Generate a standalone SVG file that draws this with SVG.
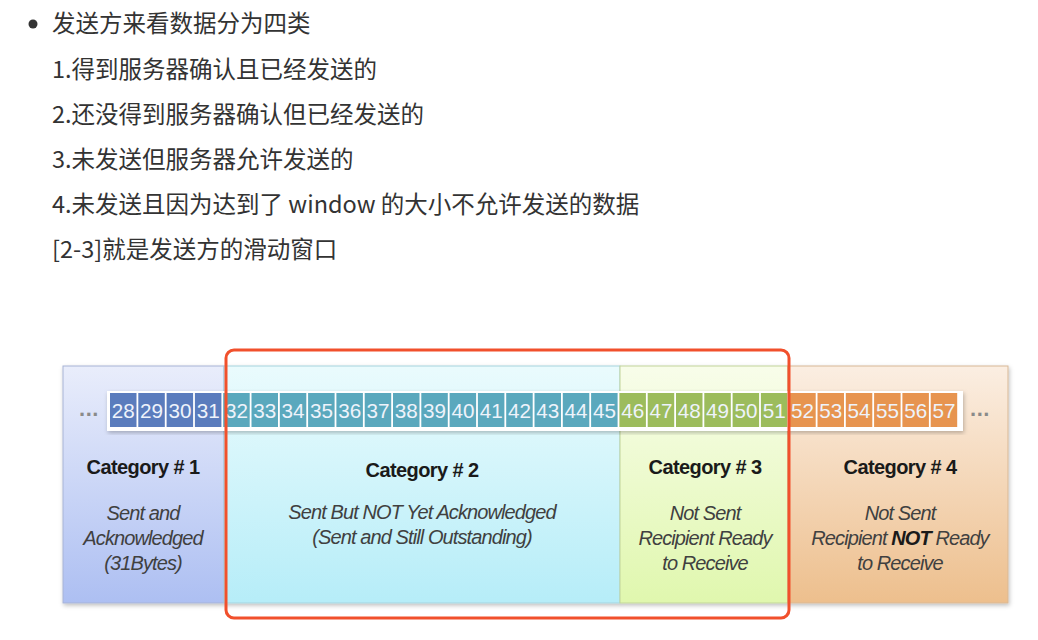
<svg xmlns="http://www.w3.org/2000/svg" width="1038" height="640" viewBox="0 0 1038 640">
<style>
.zh{font-family:"Microsoft YaHei","Noto Sans CJK SC",sans-serif;font-size:23.5px;fill:#333}
.cat{font-family:"Liberation Sans",Arial,sans-serif;font-size:20px;font-weight:bold;fill:#1a1a1a;text-anchor:middle;letter-spacing:-0.6px}
.desc{font-family:"Liberation Sans",Arial,sans-serif;font-size:20px;font-style:italic;fill:#404040;text-anchor:middle;letter-spacing:-0.9px}
.num{font-family:"Liberation Sans",Arial,sans-serif;font-size:21px;fill:#eef3fb;text-anchor:middle}
.dots{font-family:"Liberation Sans",Arial,sans-serif;font-size:22px;fill:#8a8a8a;text-anchor:middle;font-weight:bold;letter-spacing:0.5px}
.c1{fill:#5a7cbd}.c2{fill:#5aa8bd}.c3{fill:#9cbc5c}.c4{fill:#e7944f}
</style>
<defs>
<linearGradient id="g1" x1="0" y1="0" x2="0" y2="1"><stop offset="0" stop-color="#e9edfb"/><stop offset="1" stop-color="#adbff2"/></linearGradient>
<linearGradient id="g2" x1="0" y1="0" x2="0" y2="1"><stop offset="0" stop-color="#eafbfd"/><stop offset="1" stop-color="#b6edf8"/></linearGradient>
<linearGradient id="g3" x1="0" y1="0" x2="0" y2="1"><stop offset="0" stop-color="#f8fdea"/><stop offset="1" stop-color="#e0f7ae"/></linearGradient>
<linearGradient id="g4" x1="0" y1="0" x2="0" y2="1"><stop offset="0" stop-color="#fbeee2"/><stop offset="1" stop-color="#edbf8d"/></linearGradient>
<filter id="sh" x="-5%" y="-5%" width="110%" height="115%"><feDropShadow dx="1" dy="2" stdDeviation="2" flood-color="#000" flood-opacity="0.25"/></filter>
</defs>

<g id="text-block">
<circle cx="33" cy="24" r="4.5" fill="#333"/>
<text class="zh" x="52" y="32">发送方来看数据分为四类</text>
<text class="zh" x="52" y="78">1.得到服务器确认且已经发送的</text>
<text class="zh" x="52" y="123">2.还没得到服务器确认但已经发送的</text>
<text class="zh" x="52" y="168">3.未发送但服务器允许发送的</text>
<text class="zh" x="52" y="213">4.未发送且因为达到了 window 的大小不允许发送的数据</text>
<text class="zh" x="52" y="258">[2-3]就是发送方的滑动窗口</text>
</g>

<g id="panels" filter="url(#sh)">
<rect x="63" y="366" width="161" height="237" fill="url(#g1)" stroke="#a7b3d6" stroke-width="1"/>
<rect x="224" y="366" width="396" height="237" fill="url(#g2)" stroke="#a6d3de" stroke-width="1"/>
<rect x="620" y="366" width="168" height="237" fill="url(#g3)" stroke="#c2d49a" stroke-width="1"/>
<rect x="788" y="366" width="220" height="237" fill="url(#g4)" stroke="#d8b896" stroke-width="1"/>
</g>

<g id="strip">
<rect x="107" y="391" width="856" height="40" fill="#ffffff" filter="url(#sh)"/>
<text class="dots" x="89" y="416">...</text>
<text class="dots" x="980" y="416">...</text>
<g id="cells">
<rect class="c1" x="110.0" y="393" width="26.5" height="34"/><text class="num" x="123.3" y="418" textLength="23" lengthAdjust="spacingAndGlyphs">28</text>
<rect class="c1" x="138.3" y="393" width="26.5" height="34"/><text class="num" x="151.6" y="418" textLength="23" lengthAdjust="spacingAndGlyphs">29</text>
<rect class="c1" x="166.6" y="393" width="26.5" height="34"/><text class="num" x="179.9" y="418" textLength="23" lengthAdjust="spacingAndGlyphs">30</text>
<rect class="c1" x="194.9" y="393" width="26.5" height="34"/><text class="num" x="208.2" y="418" textLength="23" lengthAdjust="spacingAndGlyphs">31</text>
<rect class="c2" x="223.2" y="393" width="26.5" height="34"/><text class="num" x="236.5" y="418" textLength="23" lengthAdjust="spacingAndGlyphs">32</text>
<rect class="c2" x="251.5" y="393" width="26.5" height="34"/><text class="num" x="264.8" y="418" textLength="23" lengthAdjust="spacingAndGlyphs">33</text>
<rect class="c2" x="279.8" y="393" width="26.5" height="34"/><text class="num" x="293.1" y="418" textLength="23" lengthAdjust="spacingAndGlyphs">34</text>
<rect class="c2" x="308.1" y="393" width="26.5" height="34"/><text class="num" x="321.4" y="418" textLength="23" lengthAdjust="spacingAndGlyphs">35</text>
<rect class="c2" x="336.4" y="393" width="26.5" height="34"/><text class="num" x="349.7" y="418" textLength="23" lengthAdjust="spacingAndGlyphs">36</text>
<rect class="c2" x="364.7" y="393" width="26.5" height="34"/><text class="num" x="378.0" y="418" textLength="23" lengthAdjust="spacingAndGlyphs">37</text>
<rect class="c2" x="393.0" y="393" width="26.5" height="34"/><text class="num" x="406.3" y="418" textLength="23" lengthAdjust="spacingAndGlyphs">38</text>
<rect class="c2" x="421.3" y="393" width="26.5" height="34"/><text class="num" x="434.6" y="418" textLength="23" lengthAdjust="spacingAndGlyphs">39</text>
<rect class="c2" x="449.6" y="393" width="26.5" height="34"/><text class="num" x="462.9" y="418" textLength="23" lengthAdjust="spacingAndGlyphs">40</text>
<rect class="c2" x="477.9" y="393" width="26.5" height="34"/><text class="num" x="491.2" y="418" textLength="23" lengthAdjust="spacingAndGlyphs">41</text>
<rect class="c2" x="506.2" y="393" width="26.5" height="34"/><text class="num" x="519.5" y="418" textLength="23" lengthAdjust="spacingAndGlyphs">42</text>
<rect class="c2" x="534.5" y="393" width="26.5" height="34"/><text class="num" x="547.8" y="418" textLength="23" lengthAdjust="spacingAndGlyphs">43</text>
<rect class="c2" x="562.8" y="393" width="26.5" height="34"/><text class="num" x="576.1" y="418" textLength="23" lengthAdjust="spacingAndGlyphs">44</text>
<rect class="c2" x="591.1" y="393" width="26.5" height="34"/><text class="num" x="604.4" y="418" textLength="23" lengthAdjust="spacingAndGlyphs">45</text>
<rect class="c3" x="619.4" y="393" width="26.5" height="34"/><text class="num" x="632.7" y="418" textLength="23" lengthAdjust="spacingAndGlyphs">46</text>
<rect class="c3" x="647.7" y="393" width="26.5" height="34"/><text class="num" x="661.0" y="418" textLength="23" lengthAdjust="spacingAndGlyphs">47</text>
<rect class="c3" x="676.0" y="393" width="26.5" height="34"/><text class="num" x="689.3" y="418" textLength="23" lengthAdjust="spacingAndGlyphs">48</text>
<rect class="c3" x="704.3" y="393" width="26.5" height="34"/><text class="num" x="717.6" y="418" textLength="23" lengthAdjust="spacingAndGlyphs">49</text>
<rect class="c3" x="732.6" y="393" width="26.5" height="34"/><text class="num" x="745.9" y="418" textLength="23" lengthAdjust="spacingAndGlyphs">50</text>
<rect class="c3" x="760.9" y="393" width="26.5" height="34"/><text class="num" x="774.2" y="418" textLength="23" lengthAdjust="spacingAndGlyphs">51</text>
<rect class="c4" x="789.2" y="393" width="26.5" height="34"/><text class="num" x="802.5" y="418" textLength="23" lengthAdjust="spacingAndGlyphs">52</text>
<rect class="c4" x="817.5" y="393" width="26.5" height="34"/><text class="num" x="830.8" y="418" textLength="23" lengthAdjust="spacingAndGlyphs">53</text>
<rect class="c4" x="845.8" y="393" width="26.5" height="34"/><text class="num" x="859.1" y="418" textLength="23" lengthAdjust="spacingAndGlyphs">54</text>
<rect class="c4" x="874.1" y="393" width="26.5" height="34"/><text class="num" x="887.4" y="418" textLength="23" lengthAdjust="spacingAndGlyphs">55</text>
<rect class="c4" x="902.4" y="393" width="26.5" height="34"/><text class="num" x="915.7" y="418" textLength="23" lengthAdjust="spacingAndGlyphs">56</text>
<rect class="c4" x="930.7" y="393" width="26.5" height="34"/><text class="num" x="944.0" y="418" textLength="23" lengthAdjust="spacingAndGlyphs">57</text>
</g>
</g>

<g id="cat1">
<text class="cat" x="143" y="474">Category # 1</text>
<text class="desc" x="143" y="520">Sent and</text>
<text class="desc" x="143" y="545">Acknowledged</text>
<text class="desc" x="143" y="570">(31Bytes)</text>
</g>
<g id="cat2">
<text class="cat" x="422" y="477">Category # 2</text>
<text class="desc" x="422" y="519">Sent But NOT Yet Acknowledged</text>
<text class="desc" x="422" y="544">(Sent and Still Outstanding)</text>
</g>
<g id="cat3">
<text class="cat" x="705" y="474">Category # 3</text>
<text class="desc" x="705" y="520">Not Sent</text>
<text class="desc" x="705" y="545">Recipient Ready</text>
<text class="desc" x="705" y="570">to Receive</text>
</g>
<g id="cat4">
<text class="cat" x="900" y="474">Category # 4</text>
<text class="desc" x="900" y="520">Not Sent</text>
<text class="desc" x="900" y="545">Recipient <tspan font-weight="bold" fill="#1a1a1a">NOT</tspan> Ready</text>
<text class="desc" x="900" y="570">to Receive</text>
</g>

<g id="window">
<rect x="226" y="350" width="563" height="268" rx="8" ry="8" fill="none" stroke="#f1502c" stroke-width="3"/>
</g>
</svg>
